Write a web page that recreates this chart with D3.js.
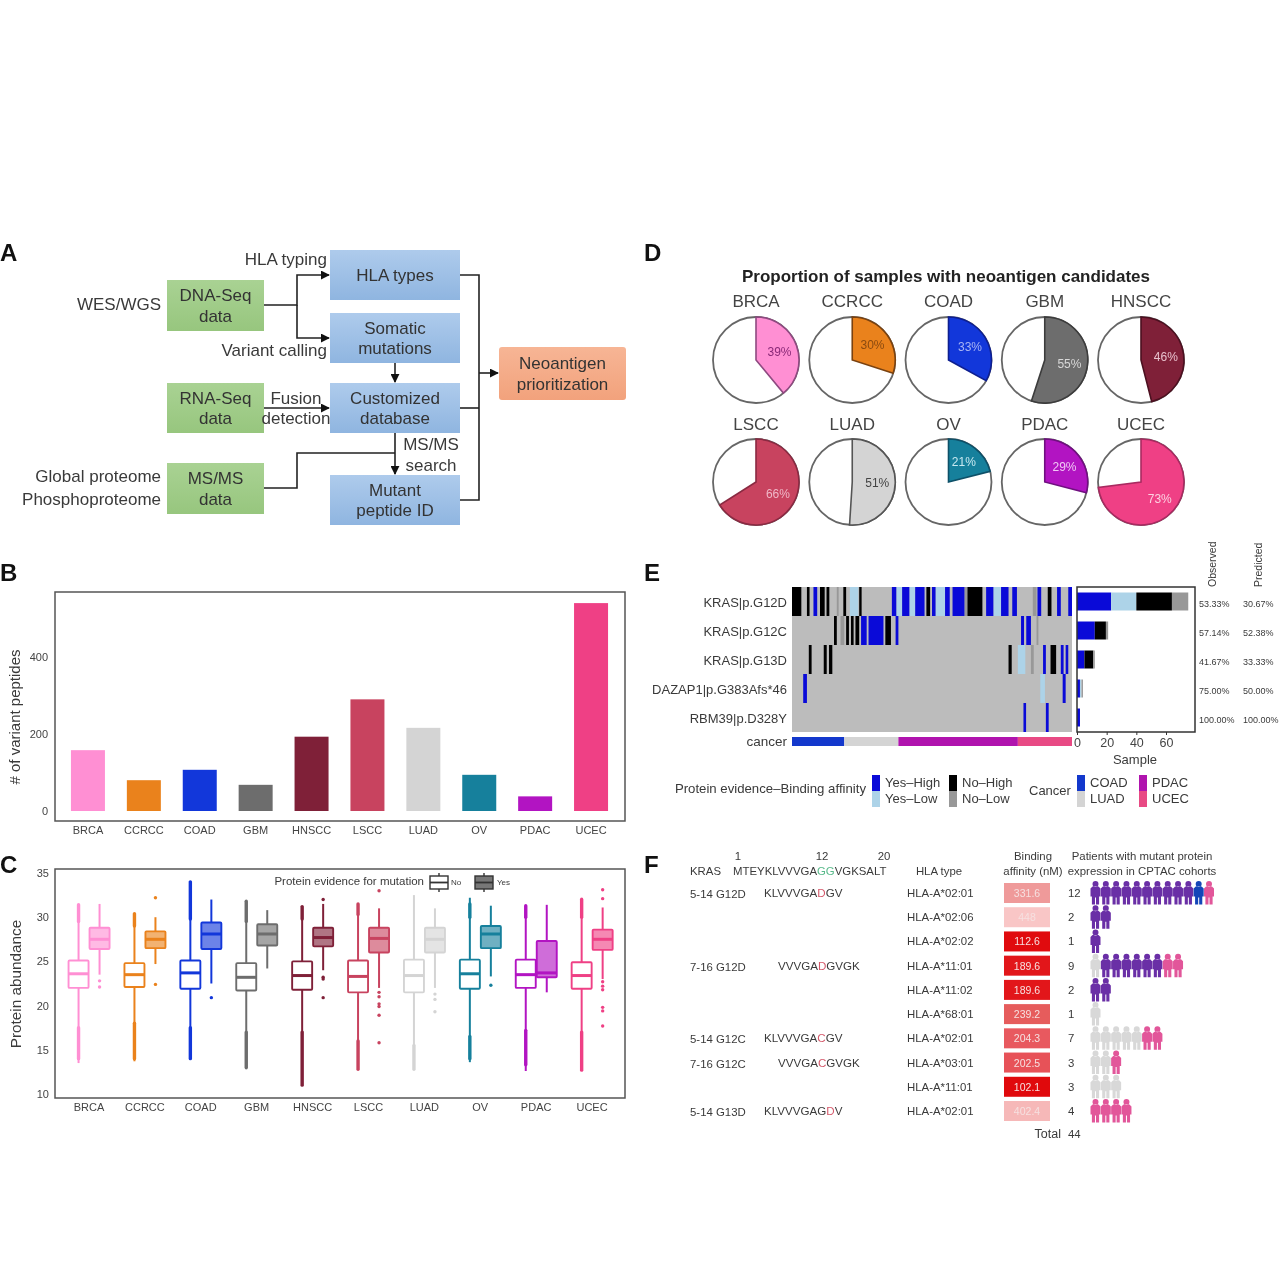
<!DOCTYPE html>
<html><head><meta charset="utf-8">
<script src="https://cdn.jsdelivr.net/npm/d3@7"></script>
<style>
html,body{margin:0;padding:0;background:#fff}
svg{display:block;filter:blur(0.45px)}
text{font-family:"Liberation Sans",Arial,sans-serif;fill:#3a3a3a}
</style></head><body><svg id="c" width="1281" height="1281" viewBox="0 0 1281 1281"></svg>
<script>
// ---------- data ----------
const cancers=["BRCA","CCRCC","COAD","GBM","HNSCC","LSCC","LUAD","OV","PDAC","UCEC"];
const cancerColors=["#ff8fd3","#ea821c","#1237da","#6d6d6d","#7f2038","#c8435f","#d4d4d4","#16809c","#b214c2","#ef4085"];
const variantPeptides=[158,80,107,68,193,290,216,94,38,540];
const neoantigenPct=[39,30,33,55,46,66,51,21,29,73];
const pieEdgeColors=["#8e4a80","#7a4210","#0e1f90","#3c3c3c","#4c1020","#8a2a42","#555555","#0e5068","#701080","#a82a60"];
const pieLabelColors=["#8a2a78","#8a4a10","#a8b4f4","#d8d8d8","#e8c0cc","#f0b8c8","#444444","#c8e8f0","#f0c8f4","#fcd0e0"];
// box stats: [whisker low, q1, median, q3, whisker high]
const boxNo=[[13.5,22,23.6,25.1,31.4],[13.7,22.1,23.5,24.8,30.4],[14,21.9,23.7,25.1,34],[12.8,21.7,23.2,24.8,31.8],[11,21.8,23.4,25,31.2],[12.8,21.5,23.3,25.1,31.5],[12.8,21.5,23.4,25.2,32.5],[13.6,21.9,23.6,25.2,32.2],[12.6,22,23.5,25.2,31.3],[12.6,21.9,23.4,24.9,32.2]];
const boxYes=[[23.5,26.4,27.5,28.8,31.5],[24.7,26.5,27.5,28.4,30],[22.5,26.4,28.1,29.4,32],[24.2,26.8,28.1,29.2,30.8],[24,26.7,27.7,28.8,31.5],[22,26,27.6,28.8,31],[22,26,27.5,28.8,31],[23.3,26.5,28.1,29,31.3],[21.5,23.2,23.7,27.3,31.4],[23,26.3,27.5,28.6,31.1]];
const denseNo=[[[14,17.5],[29.5,31.4]],[[14,18],[29,30.4]],[[14,17.5],[29.8,34]],[[13,17],[29.5,31.8]],[[11,17],[29.8,31.2]],[[12.8,16],[30.3,31.5]],[[12.8,15.5]],[[14,16.5],[30,31.5]],[[13.3,17.2],[30,31.3]],[[12.7,17],[30,32]]];
const outYes=[[22.8,22.1],[32.2,22.4],[20.9],[],[32,23.2,23,20.9],[33,21.5,21,20.2,19.9,18.9,15.8],[21.3,20.7,19.3],[22.3],[],[33.1,32.1,22.7,22.2,21.8,19.8,19.4,17.7]];
const boxAxisTicks=[10,15,20,25,30,35];
const barAxisTicks=[0,200,400];
const genes=["KRAS|p.G12D","KRAS|p.G12C","KRAS|p.G13D","DAZAP1|p.G383Afs*46","RBM39|p.D328Y"];
const evidence=["Yes–High","Yes–Low","No–High","No–Low"];
const evidenceColors=["#0a0ad8","#add3e8","#000000","#989898"];
// [row, first sample, end sample, evidence class]
const oncoSegments=[
[0,0,5,2],[0,8,9.4,2],[0,11.5,13.5,0],[0,15,17.5,2],[0,18.5,20,2],[0,24,25,3],[0,27.5,29,2],[0,31,35.5,1],[0,36,37.3,2],
[0,53.5,56,0],[0,56,59,1],[0,59,63,0],[0,63,66,1],[0,66,71,0],[0,72,74,2],[0,75,77,0],[0,77,82,1],[0,82,84.5,0],[0,86,92.5,0],[0,92.5,94,3],[0,94,102,2],[0,104,108,0],[0,108,112,1],[0,112,116,0],[0,118,120.5,0],[0,129,131,3],[0,131.5,133.5,0],[0,137,139,2],[0,142,144,0],[0,148,150,0],
[1,22.5,24,2],[1,26,28,3],[1,29,30.5,2],[1,31.6,33,2],[1,34,36,2],[1,37,40,0],[1,41,49,0],[1,50,53,2],[1,55.5,57,0],[1,122.7,124.3,0],[1,125.5,128,0],[1,131,132,3],
[2,9,10.5,2],[2,17,18.6,2],[2,19.8,21.6,2],[2,116,117.7,2],[2,121,125,1],[2,128,129.5,3],[2,134.5,136,0],[2,138.5,141.5,2],[2,144,145.5,0],[2,146.6,148,0],
[3,6,8,0],[3,133,135.5,1],[3,145,146.6,0],
[4,124,125.4,0],[4,136,137.5,0]];
const oncoStack=[[23,17,24,11],[12,0,7.5,1.5],[5,0,6,1],[2,1,0,1],[2,0,0,0]];
const observedPct=["53.33%","57.14%","41.67%","75.00%","100.00%"];
const predictedPct=["30.67%","52.38%","33.33%","50.00%","100.00%"];
const stripCancers=["COAD","LUAD","PDAC","UCEC"];
const stripCounts=[28,29,64,29];
const stripColors=["#1338cc","#d4d4d4","#b014ae","#e84a84"];
const sampleTicks=[0,20,40,60];
const peptideNames=["5-14 G12D","","","7-16 G12D","","","5-14 G12C","7-16 G12C","","5-14 G13D"];
const peptides=[["KLVVVGA","D","GV"],null,null,["VVVGA","D","GVGK"],null,null,["KLVVVGA","C","GV"],["VVVGA","C","GVGK"],null,["KLVVVGAG","D","V"]];
const hlaTypes=["HLA-A*02:01","HLA-A*02:06","HLA-A*02:02","HLA-A*11:01","HLA-A*11:02","HLA-A*68:01","HLA-A*02:01","HLA-A*03:01","HLA-A*11:01","HLA-A*02:01"];
const affinity=[331.6,448,112.6,189.6,189.6,239.2,204.3,202.5,102.1,402.4];
const patientCounts=[12,2,1,9,2,1,7,3,3,4];
const patientCohorts=[["PDAC",10,"COAD",1,"UCEC",1],["PDAC",2],["PDAC",1],["LUAD",1,"PDAC",6,"UCEC",2],["PDAC",2],["LUAD",1],["LUAD",5,"UCEC",2],["LUAD",2,"UCEC",1],["LUAD",3],["UCEC",4]];
const cohortColors={PDAC:"#6a2fa6",COAD:"#1446b8",UCEC:"#e2569a",LUAD:"#d8d8d8"};

// ---------- helpers ----------
const svg=d3.select("#c");
const T=(x,y,s,o={})=>{const t=svg.append("text").attr("x",x).attr("y",y).text(s)
  .attr("font-size",o.size||12).attr("text-anchor",o.anchor||"start");
  if(o.fill)t.style("fill",o.fill); if(o.weight)t.attr("font-weight",o.weight);
  if(o.rot!=null)t.attr("transform",`rotate(${o.rot} ${x} ${y})`); return t;};
const labels=[["A",0,261],["B",0,581],["C",0,873],["D",644,261],["E",644,581],["F",644,873]];
labels.forEach(l=>T(l[1],l[2],l[0],{size:24,weight:"bold",fill:"#111"}));

// ---------- A ----------
const defs=svg.append("defs");
[["gBlue","#aecbec","#8fb5e0"],["gGreen","#a9d293","#97c67e"],["gOrange","#f7b595","#f2a27c"]].forEach(g=>{
  const lg=defs.append("linearGradient").attr("id",g[0]).attr("x1",0).attr("y1",0).attr("x2",0).attr("y2",1);
  lg.append("stop").attr("offset",0).attr("stop-color",g[1]);lg.append("stop").attr("offset",1).attr("stop-color",g[2]);});
defs.append("marker").attr("id","arr").attr("viewBox","0 0 10 10").attr("refX",9).attr("refY",5).attr("markerWidth",9).attr("markerHeight",9).attr("markerUnits","userSpaceOnUse").attr("orient","auto")
  .append("path").attr("d","M0,0L10,5L0,10Z").attr("fill","#111");
const flowText=[["HLA types"],["Somatic","mutations"],["Customized","database"],["Mutant","peptide ID"],["DNA-Seq","data"],["RNA-Seq","data"],["MS/MS","data"],["Neoantigen","prioritization"]];
const flowBox=[[330,250,130,50,"gBlue"],[330,313,130,50,"gBlue"],[330,383,130,50,"gBlue"],[330,475,130,50,"gBlue"],[167,280,97,51,"gGreen"],[167,383,97,50,"gGreen"],[167,463,97,51,"gGreen"],[499,347,127,53,"gOrange"]];
flowBox.forEach((b,i)=>{
  svg.append("rect").attr("x",b[0]).attr("y",b[1]).attr("width",b[2]).attr("height",b[3]).attr("rx",b[4]=="gOrange"?3:0).attr("fill",`url(#${b[4]})`);
  const ls=flowText[i],cx=b[0]+b[2]/2,cy=b[1]+b[3]/2;
  ls.forEach((s,j)=>T(cx,cy+6+(j-(ls.length-1)/2)*20.5,s,{size:17,anchor:"middle",fill:"#333"}));
});
const links=[["M264,305H297V275H329",1],["M297,305V338H329",1],["M395,363V382",1],["M264,408H329",1],["M264,488H297V453H395",0],["M395,433V474",1],["M460,275H479V500H460",0],["M460,408H479",0],["M479,373H498",1]];
links.forEach(l=>{const p=svg.append("path").attr("d",l[0]).attr("fill","none").attr("stroke","#222").attr("stroke-width",1.6);if(l[1])p.attr("marker-end","url(#arr)");});
[[327,265,"HLA typing","end"],[161,310,"WES/WGS","end"],[327,356,"Variant calling","end"],[296,404,"Fusion","middle"],[296,424,"detection","middle"],[431,450,"MS/MS","middle"],[431,471,"search","middle"],[161,482,"Global proteome","end"],[161,505,"Phosphoproteome","end"]]
 .forEach(t=>T(t[0],t[1],t[2],{size:17,anchor:t[3]}));

// ---------- B ----------
const frame=(x,y,w,h,c="#555",sw=1.5)=>svg.append("rect").attr("x",x).attr("y",y).attr("width",w).attr("height",h).attr("fill","none").attr("stroke",c).attr("stroke-width",sw);
const bx=d3.scaleBand().domain(cancers).range([60,619]);
const by=d3.scaleLinear().domain([0,600]).range([811,580]);
svg.append("g").selectAll("rect").data(cancers).join("rect")
  .attr("x",d=>bx(d)+bx.step()/2-17).attr("width",34)
  .attr("y",(d,i)=>by(variantPeptides[i])).attr("height",(d,i)=>by(0)-by(variantPeptides[i]))
  .attr("fill",(d,i)=>cancerColors[i]);
frame(55,592,570,229);
const styleAxis=(g,size)=>{g.select(".domain").remove();g.selectAll("line").remove();g.selectAll("text").attr("font-size",size).style("fill","#444");};
svg.append("g").attr("transform","translate(54,0)").call(d3.axisLeft(by).tickValues(barAxisTicks).tickSize(0).tickPadding(6)).call(g=>styleAxis(g,11));
svg.append("g").attr("transform","translate(0,821)").call(d3.axisBottom(bx).tickSize(0).tickPadding(5)).call(g=>styleAxis(g,11));
T(20,717,"# of variant peptides",{size:15,anchor:"middle",rot:-90});

// ---------- C ----------
const cx=d3.scaleBand().domain(cancers).range([61,620]);
const cy=d3.scaleLinear().domain([10,35]).range([1094,873]);
const drawBox=(stats,x,color,filled,w=20)=>{
  const g=svg.append("g");
  g.append("line").attr("x1",x).attr("x2",x).attr("y1",cy(stats[0])).attr("y2",cy(stats[4])).attr("stroke",color).attr("stroke-width",2);
  g.append("rect").attr("x",x-w/2).attr("width",w).attr("y",cy(stats[3])).attr("height",cy(stats[1])-cy(stats[3]))
    .attr("fill","#fff");
  g.append("rect").attr("x",x-w/2).attr("width",w).attr("y",cy(stats[3])).attr("height",cy(stats[1])-cy(stats[3]))
    .attr("fill",filled?color:"#fff").attr("fill-opacity",filled?0.62:1).attr("stroke",color).attr("stroke-width",1.9).attr("rx",1);
  g.append("line").attr("x1",x-w/2).attr("x2",x+w/2).attr("y1",cy(stats[2])).attr("y2",cy(stats[2])).attr("stroke",color).attr("stroke-width",3);
};
cancers.forEach((c,i)=>{
  const m=cx(c)+cx.step()/2,col=cancerColors[i];
  denseNo[i].forEach(r=>svg.append("line").attr("x1",m-10.4).attr("x2",m-10.4).attr("y1",cy(r[0])).attr("y2",cy(r[1])).attr("stroke",col).attr("stroke-width",3.4).attr("stroke-linecap","round"));
  svg.append("g").selectAll("circle").data(outYes[i]).join("circle").attr("cx",m+10.6).attr("cy",d=>cy(d)).attr("r",1.7).attr("fill",col);
  drawBox(boxNo[i],m-10.4,col,false);
  drawBox(boxYes[i],m+10.6,col,true);
});
frame(55,869,570,229);
svg.append("g").attr("transform","translate(54,0)").call(d3.axisLeft(cy).tickValues(boxAxisTicks).tickSize(0).tickPadding(5)).call(g=>styleAxis(g,11));
svg.append("g").attr("transform","translate(0,1098)").call(d3.axisBottom(cx).tickSize(0).tickPadding(5)).call(g=>styleAxis(g,11));
T(21,984,"Protein abundance",{size:15.3,anchor:"middle",rot:-90});
T(424,885,"Protein evidence for mutation",{size:11.5,anchor:"end"});
[[439,"#fff","No",451],[484,"#777","Yes",497]].forEach(k=>{
  svg.append("line").attr("x1",k[0]).attr("x2",k[0]).attr("y1",873).attr("y2",892).attr("stroke","#333").attr("stroke-width",1.4);
  svg.append("rect").attr("x",k[0]-9).attr("y",876).attr("width",18).attr("height",13).attr("fill",k[1]).attr("stroke","#333").attr("stroke-width",1.4);
  svg.append("line").attr("x1",k[0]-9).attr("x2",k[0]+9).attr("y1",882.5).attr("y2",882.5).attr("stroke","#333").attr("stroke-width",1.8);
  T(k[3],885,k[2],{size:8});
});

// ---------- D ----------
T(946,282,"Proportion of samples with neoantigen candidates",{size:17,weight:"bold",anchor:"middle",fill:"#222"});
const pieX=d3.scalePoint().domain(d3.range(5)).range([756,1141]);
const pieY=[360,482], pieTitleY=[307,430], pieR=43;
const arc=d3.arc().innerRadius(0).outerRadius(pieR);
const labelArc=d3.arc().innerRadius(0).outerRadius(50);
cancers.forEach((c,i)=>{
  const r=i<5?0:1,x=pieX(i%5),y=pieY[r],a1=neoantigenPct[i]/100*2*Math.PI;
  T(x,pieTitleY[r],c,{size:17,anchor:"middle",fill:"#444"});
  const g=svg.append("g").attr("transform",`translate(${x},${y})`);
  g.append("circle").attr("r",pieR).attr("fill","#fff").attr("stroke","#666").attr("stroke-width",1.8);
  g.append("path").attr("d",arc({startAngle:0,endAngle:a1})).attr("fill",cancerColors[i]).attr("stroke",pieEdgeColors[i]).attr("stroke-width",1.6);
  const p=labelArc.centroid({startAngle:0,endAngle:a1});
  g.append("text").attr("x",p[0]).attr("y",p[1]+4).attr("text-anchor","middle").attr("font-size",12).text(neoantigenPct[i]+"%")
    .style("fill",pieLabelColors[i]);
});

// ---------- E ----------
const ex=d3.scaleLinear().domain([0,150]).range([792,1072]);
const ey=d3.scaleBand().domain(d3.range(5)).range([587,732]);
svg.append("rect").attr("x",ex(0)).attr("y",ey(0)).attr("width",ex(150)-ex(0)).attr("height",ey.step()*5).attr("fill","#bcbcbc");
svg.append("g").selectAll("rect").data(oncoSegments).join("rect")
  .attr("x",d=>ex(d[1])).attr("width",d=>ex(d[2])-ex(d[1])).attr("y",d=>ey(d[0])).attr("height",ey.bandwidth())
  .attr("fill",d=>evidenceColors[d[3]]);
let s0=0;stripCounts.forEach((n,i)=>{svg.append("rect").attr("x",ex(s0)).attr("width",ex(s0+n)-ex(s0)).attr("y",737).attr("height",9).attr("fill",stripColors[i]);s0+=n;});
T(787,746,"cancer",{size:13.5,anchor:"end"});
genes.forEach((g,i)=>{
  const y=ey(i)+ey.step()/2+5;
  T(787,y,g,{size:13,anchor:"end"});
  T(1199,y,observedPct[i],{size:9});
  T(1243,y,predictedPct[i],{size:9});
});
const sx=d3.scaleLinear().domain([0,60]).range([1077,1166]);
oncoStack.forEach((row,i)=>{let a=0;row.forEach((v,j)=>{if(v>0){
  svg.append("rect").attr("x",sx(a)).attr("width",sx(a+v)-sx(a)).attr("y",ey(i)+5.5).attr("height",ey.step()-11).attr("fill",evidenceColors[j]);}a+=v;});});
frame(1077,587,118,145,"#333",1.5);
svg.append("g").attr("transform","translate(0,732)").call(d3.axisBottom(sx).tickValues(sampleTicks).tickSize(3).tickPadding(3))
  .call(g=>{g.select(".domain").remove();g.selectAll("line").attr("stroke","#333");g.selectAll("text").attr("font-size",12.5).style("fill","#444");});
T(1135,764,"Sample",{size:13,anchor:"middle"});
T(1216,587,"Observed",{size:10.5,rot:-90});
T(1262,587,"Predicted",{size:10.5,rot:-90});
T(866,793,"Protein evidence–Binding affinity",{size:13.2,anchor:"end"});
const legSwatch=(x,y,c,t)=>{svg.append("rect").attr("x",x).attr("y",y).attr("width",8).attr("height",16).attr("fill",c);T(x+13,y+12,t,{size:13});};
legSwatch(872,775,evidenceColors[0],evidence[0]);legSwatch(872,791,evidenceColors[1],evidence[1]);
legSwatch(949,775,evidenceColors[2],evidence[2]);legSwatch(949,791,evidenceColors[3],evidence[3]);
T(1029,795,"Cancer",{size:13});
legSwatch(1077,775,stripColors[0],stripCancers[0]);legSwatch(1077,791,stripColors[1],stripCancers[1]);
legSwatch(1139,775,stripColors[2],stripCancers[2]);legSwatch(1139,791,stripColors[3],stripCancers[3]);

// ---------- F ----------
const fy=d3.scalePoint().domain(d3.range(10)).range([893,1111]);
const fSize=11.4;
[[738,"1"],[822,"12"],[884,"20"]].forEach(t=>T(t[0],860,t[1],{size:fSize,anchor:"middle"}));
T(690,875,"KRAS",{size:fSize});
const seq=T(733,875,"",{size:fSize});
seq.append("tspan").text("MTEYKLVVVGA");seq.append("tspan").text("GG").style("fill","#58b98a");seq.append("tspan").text("VGKSALT");
T(939,875,"HLA type",{size:fSize,anchor:"middle"});
T(1033,860,"Binding",{size:fSize,anchor:"middle"});T(1033,875,"affinity (nM)",{size:fSize,anchor:"middle"});
T(1142,860,"Patients with mutant protein",{size:fSize,anchor:"middle"});T(1142,875,"expression in CPTAC cohorts",{size:fSize,anchor:"middle"});
const affColor=d3.scaleLinear().domain([102,190,204,239,332,402,448]).range(["#e0090c","#e2161a","#e8595f","#e65c5c","#ef9a9a","#f6b8b8","#f9c6c6"]);
const personX=d3.scaleLinear().domain([0,11]).range([1095.5,1209]);
const personPath="M-3,-9a3,3 0 1,0 6,0a3,3 0 1,0 -6,0ZM-3,-6.5H3L5,-4.5V3.5H3.6V11.5H0.5V4.5H-0.5V11.5H-3.6V3.5H-5V-4.5Z";
fy.domain().forEach(i=>{
  const y=fy(i),b=y+4;
  if(peptideNames[i])T(690,b+1,peptideNames[i],{size:fSize});
  if(peptides[i]){
    const x=peptides[i][0].startsWith("KL")?764:778;
    const t=T(x,b,"",{size:11.6});
    t.append("tspan").text(peptides[i][0]);t.append("tspan").text(peptides[i][1]).style("fill","#d4586a");t.append("tspan").text(peptides[i][2]);
  }
  T(907,b,hlaTypes[i],{size:fSize});
  svg.append("rect").attr("x",1004).attr("y",y-10).attr("width",46).attr("height",20).attr("fill",affColor(affinity[i]));
  T(1027,b,affinity[i],{size:10.5,anchor:"middle",fill:"#f6e0e0"});
  T(1068,b,patientCounts[i],{size:fSize});
  let k=0;const c=patientCohorts[i];
  for(let q=0;q<c.length;q+=2)for(let n=0;n<c[q+1];n++){
    svg.append("path").attr("d",personPath).attr("fill",cohortColors[c[q]]).attr("transform",`translate(${personX(k)},${y})`);k++;}
});
T(1061,1138,"Total",{size:12.5,anchor:"end"});
T(1068,1138,d3.sum(patientCounts),{size:fSize});
</script></body></html>
